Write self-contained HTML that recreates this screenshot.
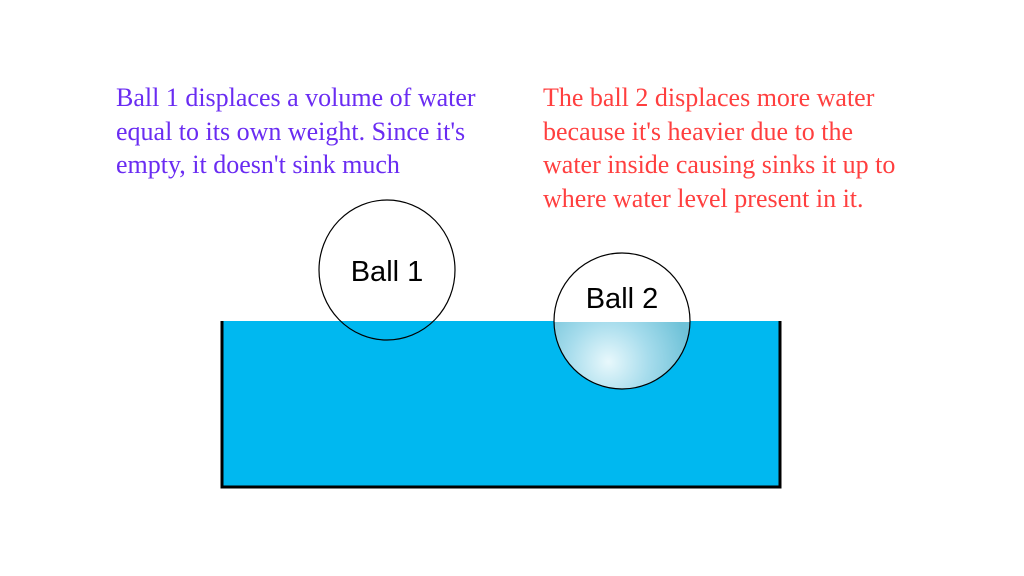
<!DOCTYPE html>
<html><head><style>
html,body{margin:0;padding:0;background:#fff;}
body{width:1024px;height:576px;position:relative;overflow:hidden;font-family:"Liberation Serif",serif;}
.t{position:absolute;font-size:26px;line-height:33.5px;white-space:nowrap;}
</style></head><body>
<div class="t" style="left:116px;top:81px;color:#6a2cf2;">Ball 1 displaces a volume of water<br>equal to its own weight. Since it's<br>empty, it doesn't sink much</div>
<div class="t" style="left:543px;top:81px;color:#ff3f3f;">The ball 2 displaces more water<br>because it's heavier due to the<br>water inside causing sinks it up to<br>where water level present in it.</div>
<svg width="1024" height="576" style="position:absolute;left:0;top:0">
<defs>
<radialGradient id="g" cx="0.4" cy="0.8" r="0.6">
<stop offset="0" stop-color="#e8f8fc"/>
<stop offset="0.5" stop-color="#a6dcec"/>
<stop offset="1" stop-color="#6fc2d8"/>
</radialGradient>
<clipPath id="c"><rect x="0" y="322" width="1024" height="200"/></clipPath>
</defs>
<rect x="221" y="321" width="560" height="166" fill="#00b8f0"/>
<path d="M222 321 V487 H780 V321" fill="none" stroke="#000" stroke-width="3"/>
<ellipse cx="387" cy="270" rx="68" ry="70" fill="none" stroke="#000" stroke-width="1.2"/>
<circle cx="622" cy="321" r="68" fill="#fff"/>
<circle cx="622" cy="321" r="68" fill="url(#g)" clip-path="url(#c)"/>
<circle cx="622" cy="321" r="68" fill="none" stroke="#000" stroke-width="1.2"/>
<text x="387" y="281" font-family="Liberation Sans, sans-serif" font-size="29" text-anchor="middle" fill="#000">Ball 1</text>
<text x="622" y="308" font-family="Liberation Sans, sans-serif" font-size="29" text-anchor="middle" fill="#000">Ball 2</text>
</svg>
</body></html>
